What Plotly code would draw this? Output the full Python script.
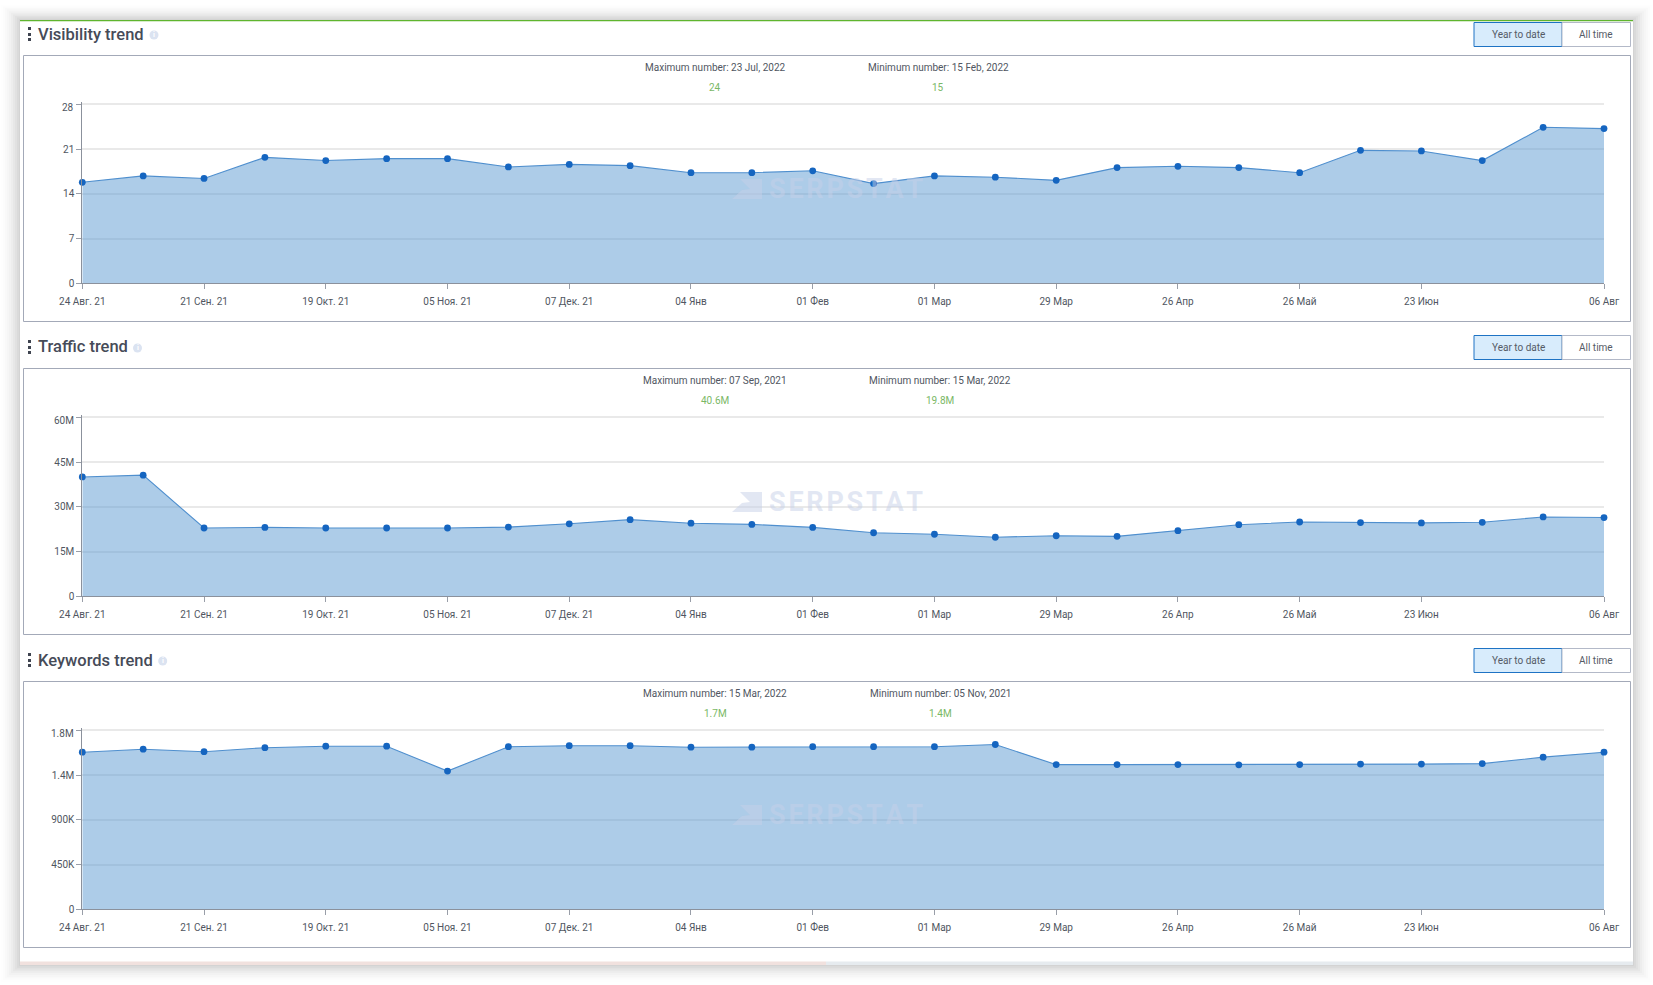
import plotly.graph_objects as go

W, H = 1653, 985
tick_positions = [0, 2, 4, 6, 8, 10, 12, 14, 16, 18, 20, 22, 25]
tick_labels = ["24 Авг. 21", "21 Сен. 21", "19 Окт. 21", "05 Ноя. 21", "07 Дек. 21", "04 Янв", "01 Фев",
               "01 Мар", "29 Мар", "26 Апр", "26 Май", "23 Июн", "06 Авг"]
periods = list(range(26))

visibility = [15.8, 16.8, 16.4, 19.7, 19.2, 19.5, 19.5, 18.2, 18.6, 18.4, 17.3, 17.3, 17.6,
              15.6, 16.8, 16.6, 16.1, 18.1, 18.3, 18.1, 17.3, 20.8, 20.7, 19.2, 24.4, 24.2]
traffic = [40.0e6, 40.6e6, 22.9e6, 23.1e6, 22.9e6, 22.9e6, 22.9e6, 23.2e6, 24.3e6, 25.7e6, 24.5e6, 24.1e6, 23.1e6,
           21.3e6, 20.8e6, 19.8e6, 20.3e6, 20.1e6, 22.0e6, 24.0e6, 24.9e6, 24.7e6, 24.6e6, 24.8e6, 26.6e6, 26.4e6]
keywords = [1.58e6, 1.61e6, 1.585e6, 1.625e6, 1.64e6, 1.64e6, 1.39e6, 1.635e6, 1.645e6, 1.645e6, 1.63e6, 1.63e6, 1.635e6,
            1.635e6, 1.635e6, 1.657e6, 1.455e6, 1.455e6, 1.455e6, 1.453e6, 1.455e6, 1.46e6, 1.46e6, 1.465e6, 1.53e6, 1.58e6]

titles = ["Visibility trend", "Traffic trend", "Keywords trend"]
icon_x = [154, 137.5, 162.7]
series = [visibility, traffic, keywords]
y_ticks = [[0, 7, 14, 21, 28], [0, 15e6, 30e6, 45e6, 60e6], [0, 450e3, 900e3, 1.35e6, 1.8e6]]
y_labels = [["0", "7", "14", "21", "28"], ["0", "15M", "30M", "45M", "60M"], ["0", "450K", "900K", "1.4M", "1.8M"]]
max_text = ["Maximum number: 23 Jul, 2022", "Maximum number: 07 Sep, 2021", "Maximum number: 15 Mar, 2022"]
min_text = ["Minimum number: 15 Feb, 2022", "Minimum number: 15 Mar, 2022", "Minimum number: 05 Nov, 2021"]
max_vals = ["24", "40.6M", "1.7M"]
min_vals = ["15", "19.8M", "1.4M"]

FONT = "Roboto, sans-serif"
TICK_COLOR = "#505661"
PLOT_L, PLOT_R = 82.3, 1604
OFFSET = 313
TOP0, BOT0 = 104.3, 283.3
HEADROOM = 2  # px of extra axis above the top tick so its gridline is kept
PLOT_H = BOT0 - TOP0


def px(x):
    return x / W


def py(y):
    return 1 - y / H


shapes = []
ann = []


def rect(x0, y0, x1, y1, fill=None, line=None, lw=1, layer="below"):
    shapes.append(dict(type="rect", xref="paper", yref="paper", x0=px(x0), x1=px(x1), y0=py(y1), y1=py(y0),
                       fillcolor=fill or "rgba(0,0,0,0)", line=dict(color=line or "rgba(0,0,0,0)", width=lw if line else 0),
                       layer=layer))


def text(x, y, s, size=10, color=TICK_COLOR, anchor="center", family=FONT, weight=None):
    f = dict(family=family, size=size, color=color)
    if weight:
        f["weight"] = weight
    ann.append(dict(x=px(x), y=py(y), xref="paper", yref="paper", text=s, showarrow=False, xanchor=anchor,
                    yanchor="middle", font=f))


# soft card shadow, fading outwards
for d in range(19, 0, -2):
    alpha = 0.004 + 0.034 * (1 - d / 19)
    rect(20 - d, 20 - d * 0.8, 1633 + d, 965 + d * 0.9, fill=f"rgba(40,40,40,{alpha:.4f})")
rect(20, 20, 1633, 965, fill="#ffffff")
rect(20, 20, 1633, 21.2, fill="#5fb52e")
rect(20, 961.5, 826, 965, fill="#f1e1de")
rect(826, 961.5, 1633, 965, fill="#e6ebef")

fig = go.Figure()
for i in range(3):
    off = OFFSET * i
    rect(23.5, 55.5 + off, 1630.5, 321.5 + off, fill="#ffffff", line="#a3a9b8", lw=1)

    # drag handle
    for dy in (28, 34, 39):
        rect(28, dy + off - 1, 31, dy + off + 2, fill="#3f4450")
    text(36.2, 34 + off, titles[i], size=16.5, color="#464b58", anchor="left", weight=500)
    ix = icon_x[i]
    shapes.append(dict(type="circle", xref="paper", yref="paper", x0=px(ix - 4.5), x1=px(ix + 4.5),
                       y0=py(39.5 + off), y1=py(30.5 + off), fillcolor="#dbe3f1", line=dict(width=0), layer="below"))
    text(ix, 35 + off, "i", size=7, color="#ffffff", weight=700)

    # range buttons
    rect(1474, 22.5 + off, 1562, 46.5 + off, fill="#d8ecfc", line="#1e73c4", lw=1)
    rect(1562, 22.5 + off, 1630.5, 46.5 + off, fill="#ffffff", line="#b3b9c8", lw=1)
    text(1518, 34.5 + off, "Year to date", size=10, color="#555b66")
    text(1596, 34.5 + off, "All time", size=10, color="#555b66")

    # min / max summary
    cx_max = [715, 715, 715][i]
    cx_min = [938, 940, 940][i]
    text(cx_max, 67.5 + off, max_text[i], size=10)
    text(cx_min, 67.5 + off, min_text[i], size=10)
    text(cx_max, 87.5 + off, max_vals[i], size=10, color="#7ab866")
    text(cx_min, 87.5 + off, min_vals[i], size=10, color="#7ab866")

    # watermark
    text(845.5, 189 + off, "S\u200aE\u200aR\u200aP\u200aS\u200aT\u200aA\u200aT", size=27,
         color="rgba(198,208,232,0.5)", weight=700)
    pts = [(740, 179), (762, 179), (762, 199), (732, 199), (742, 190), (750, 189)]
    shapes.append(dict(type="path", xref="paper", yref="paper", layer="above", line=dict(width=0),
                       fillcolor="rgba(198,208,232,0.5)",
                       path="M" + " L".join(f"{px(a)},{py(b + off)}" for a, b in pts) + " Z"))

    # top y label sits a little below its gridline in the reference
    text(75.5, TOP0 + 3 + off, y_labels[i][-1], size=10, anchor="right")
    shown_labels = y_labels[i][:-1] + [""]

    suffix = "" if i == 0 else str(i + 1)
    top_val = y_ticks[i][-1]
    fig.add_trace(go.Scatter(
        x=periods, y=series[i], mode="lines+markers", xaxis=f"x{suffix}", yaxis=f"y{suffix}",
        fill="tozeroy", fillcolor="rgba(92,154,210,0.5)",
        line=dict(color="#4f8fce", width=1.1), marker=dict(color="#1565c0", size=6.8),
        cliponaxis=False, showlegend=False, hoverinfo="x+y",
    ))
    fig.update_layout({
        f"xaxis{suffix}": dict(
            domain=[px(PLOT_L), px(PLOT_R)], range=[0, 25], anchor=f"y{suffix}",
            tickmode="array", tickvals=tick_positions, ticktext=tick_labels,
            ticks="outside", ticklen=5, tickcolor="#999ea8", tickwidth=1,
            showline=True, linecolor="#8b919c", linewidth=1, showgrid=False, zeroline=False,
            ticklabelstandoff=4, tickangle=0,
            tickfont=dict(family=FONT, size=10, color=TICK_COLOR)),
        f"yaxis{suffix}": dict(
            domain=[py(BOT0 + off), py(TOP0 - HEADROOM + off)],
            range=[0, top_val * (1 + HEADROOM / PLOT_H)], anchor=f"x{suffix}",
            tickmode="array", tickvals=y_ticks[i], ticktext=shown_labels,
            ticks="outside", ticklen=5, tickcolor="#999ea8", tickwidth=1,
            showline=True, linecolor="#8b919c", linewidth=1, showgrid=True, gridcolor="#e9e9e9", gridwidth=1.5,
            zeroline=False, tickfont=dict(family=FONT, size=10, color=TICK_COLOR)),
    })

fig.update_layout(width=W, height=H, autosize=False,
                  margin=dict(l=0, r=0, t=0, b=0, pad=0, autoexpand=False),
                  paper_bgcolor="#ffffff", plot_bgcolor="rgba(0,0,0,0)", shapes=shapes, annotations=ann,
                  showlegend=False, font=dict(family=FONT))
fig.write_html("out.html", config={"displayModeBar": False},
               post_script="document.body.style.margin='0';document.body.style.overflow='hidden';")
